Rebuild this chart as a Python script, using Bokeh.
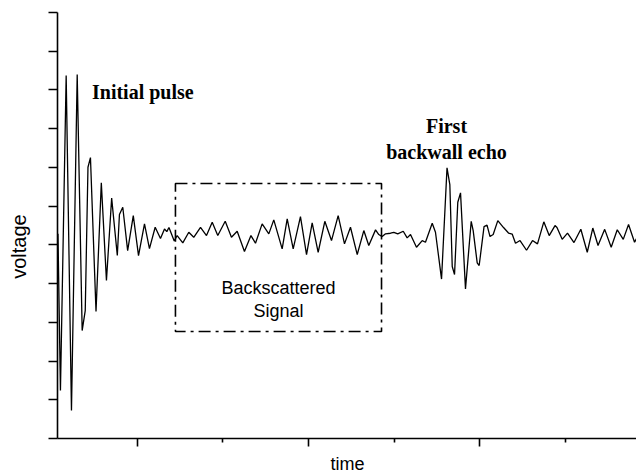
import math
from bokeh.plotting import figure
from bokeh.models import Range1d, FixedTicker, Label, BoxAnnotation, CustomJSTickFormatter
from bokeh.embed import file_html
from bokeh.resources import INLINE

# ---- data (time in tick units, voltage in tick units) ----
time_vals = [0.070, 0.099, 0.166, 0.228, 0.295, 0.353, 0.389, 0.421, 0.450, 0.515,
             0.577, 0.637, 0.698, 0.764, 0.789, 0.828, 0.885, 0.951, 1.012, 1.082,
             1.140, 1.207, 1.269, 1.316, 1.343, 1.368, 1.430, 1.464, 1.530, 1.600,
             1.658, 1.737, 1.807, 1.874, 1.939, 2.026, 2.099, 2.166, 2.251, 2.327,
             2.380, 2.458, 2.536, 2.594, 2.692, 2.751, 2.821, 2.906, 2.977, 3.043,
             3.113, 3.191, 3.269, 3.347, 3.421, 3.491, 3.570, 3.647, 3.705, 3.784,
             3.822, 3.862, 3.901, 3.959, 3.998, 4.044, 4.108, 4.154, 4.193, 4.263,
             4.330, 4.368, 4.447, 4.485, 4.556, 4.620, 4.653, 4.681, 4.708, 4.746,
             4.778, 4.836, 4.903, 4.926, 4.973, 4.996, 5.053, 5.088, 5.123, 5.160,
             5.214, 5.281, 5.339, 5.382, 5.421, 5.474, 5.550, 5.620, 5.678, 5.752,
             5.815, 5.883, 5.906, 5.967, 6.029, 6.105, 6.185, 6.260, 6.325, 6.386,
             6.464, 6.540, 6.611, 6.681, 6.743, 6.813, 6.836]
voltage_vals = [0.284, -3.762, 4.371, -4.278, 4.397, -2.213, -1.696, 2.004, 2.254, -1.722,
                1.603, -0.922, 1.208, -0.276, 0.782, 0.971, -0.147, 0.757, -0.276, 0.542,
                -0.096, 0.454, 0.163, 0.408, 0.343, 0.447, 0.098, 0.240, 0.052, 0.325,
                0.196, 0.454, 0.240, 0.584, 0.240, 0.609, 0.196, 0.351, -0.173, 0.240,
                0.041, 0.542, 0.284, 0.645, -0.103, 0.671, -0.103, 0.731, -0.250, 0.568,
                -0.191, 0.609, 0.111, 0.757, 0.026, 0.454, -0.250, 0.369, -0.018, 0.387,
                0.266, 0.214, 0.284, 0.300, 0.325, 0.284, 0.351, 0.181, 0.266, -0.062,
                0.111, 0.067, 0.558, 0.325, -0.883, 1.988, 1.557, -0.560, -0.767, 1.100,
                1.343, -1.136, 0.609, 0.369, -0.465, -0.534, 0.472, 0.511, 0.214, 0.266,
                0.627, 0.447, 0.305, 0.279, 0.041, 0.111, -0.139, 0.111, 0.026, 0.594,
                0.240, 0.498, 0.447, 0.142, 0.305, 0.059, 0.403, -0.191, 0.434, -0.018,
                0.400, -0.062, 0.390, 0.142, 0.524, 0.067, 0.163]

x_major_ticks = [1, 3, 5]
x_minor_ticks = [2, 4, 6]
y_ticks = [-5, -4, -3, -2, -1, 0, 1, 2, 3, 4, 5, 6]

# axis extents (data units)
time_start, time_end = 0.064, 6.836
volt_min, volt_max = -5, 6

# region of backscattered signal (time / voltage units)
box_time = [1.444, 3.854]
box_voltage = [-2.239, 1.583]

x_label = "time"
y_label = "voltage"

p = figure(width=636, height=473, output_backend="svg", toolbar_location=None,
           x_range=Range1d(-0.602, 6.836), y_range=Range1d(-5.904, 6.310),
           min_border_left=0, min_border_right=0, min_border_top=0, min_border_bottom=0)
p.outline_line_color = None
p.xgrid.visible = False
p.ygrid.visible = False
p.background_fill_color = "white"
p.border_fill_color = "white"

p.line(time_vals, voltage_vals, line_color="black", line_width=1.3)

box = BoxAnnotation(left=box_time[0], right=box_time[1], bottom=box_voltage[0], top=box_voltage[1],
                    fill_alpha=0, line_color="black", line_alpha=1.0, line_width=1.6,
                    line_dash="12 5 3 5")
p.add_layout(box)

for ax in (p.xaxis[0], p.yaxis[0]):
    ax.axis_line_color = "black"
    ax.axis_line_width = 1.6
    ax.major_tick_line_color = "black"
    ax.major_tick_line_width = 1.6
    ax.minor_tick_line_color = "black"
    ax.minor_tick_line_width = 1.6
    ax.major_tick_in = 0
    ax.minor_tick_in = 0
    ax.formatter = CustomJSTickFormatter(code="return ''")
    ax.major_label_text_font_size = "1px"
    ax.major_label_standoff = 0

xa = p.xaxis[0]
xa.ticker = FixedTicker(ticks=x_major_ticks, minor_ticks=x_minor_ticks)
xa.major_tick_out = 8
xa.minor_tick_out = 4
xa.fixed_location = volt_min
xa.bounds = (time_start, time_end)

ya = p.yaxis[0]
ya.ticker = FixedTicker(ticks=y_ticks, minor_ticks=[])
ya.major_tick_out = 9
ya.fixed_location = time_start
ya.bounds = (volt_min, volt_max)

sans = "Liberation Sans"
serif = "Liberation Serif"

p.add_layout(Label(x=3.456, y=-5.655, text=x_label, text_font=sans, text_font_size="18px",
                   text_align="center", text_baseline="alphabetic", text_color="black"))
p.add_layout(Label(x=-0.380, y=-0.044, text=y_label, text_font=sans, text_font_size="20px",
                   angle=math.pi / 2, text_align="center", text_baseline="middle",
                   text_color="black"))

p.add_layout(Label(x=0.468, y=3.95, text="Initial pulse", text_font=serif, text_font_size="20px",
                   text_font_style="bold", text_align="left", text_baseline="alphabetic",
                   text_color="black"))
p.add_layout(Label(x=4.614, y=3.07, text="First", text_font=serif, text_font_size="20px",
                   text_font_style="bold", text_align="center", text_baseline="alphabetic",
                   text_color="black"))
p.add_layout(Label(x=4.614, y=2.40, text="backwall echo", text_font=serif, text_font_size="20px",
                   text_font_style="bold", text_align="center", text_baseline="alphabetic",
                   text_color="black"))
p.add_layout(Label(x=2.65, y=-1.12, text="Backscattered", text_font=sans, text_font_size="18px",
                   text_align="center", text_baseline="alphabetic", text_color="black"))
p.add_layout(Label(x=2.65, y=-1.70, text="Signal", text_font=sans, text_font_size="18px",
                   text_align="center", text_baseline="alphabetic", text_color="black"))

open("out.html", "w").write(file_html(p, INLINE))
